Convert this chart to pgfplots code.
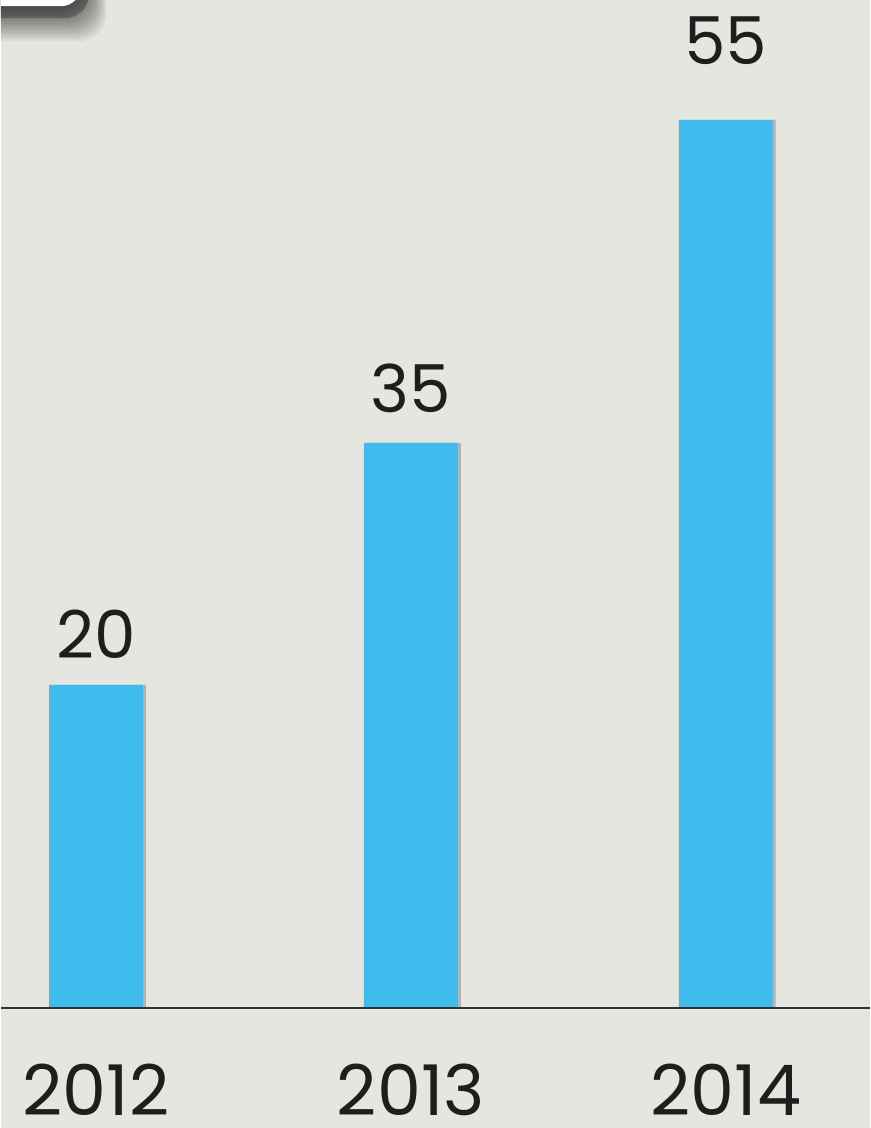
\documentclass[border=0pt]{standalone}
\usepackage{pgfplots}
\pgfplotsset{compat=1.18}
\usepackage{pgfplotstable}
\usepackage{fontspec}
\setmainfont{Poppins}
\definecolor{bg}{HTML}{E6E6E1}
\definecolor{barblue}{HTML}{3FBBEE}
\definecolor{txt}{HTML}{1E1E1E}
\pgfplotstableread{
x y off
0 20 13.5
1 35 15
2 55 27.5
}\datatable
\begin{document}
\begin{tikzpicture}
\begin{axis}[
  scale only axis,
  width=434.5pt, height=564pt,
  xmin=-0.3016, xmax=2.4571,
  ymin=-7.43, ymax=62.42,
  axis line style={draw=none},
  axis background/.style={fill=bg},
  major tick length=0pt,
  ytick=\empty,
  xtick={0,1,2},
  xticklabels={2012,2013,2014},
  xticklabel style={font=\fontsize{35}{40}\selectfont, text=txt, anchor=base, inner sep=0pt, yshift=6pt},
  /pgf/number format/assume math mode=true,
  clip=false,
]
% top-left box with soft shadow
\begin{scope}
\clip (axis description cs:0,0) rectangle (axis description cs:1,1);
\pgfplotsinvokeforeach{1,...,14}{
  \fill[black, opacity=0.055, rounded corners=14pt]
    (axis description cs:-0.1,1.1) rectangle ([xshift=0.9*#1pt, yshift=-1.25*#1pt]axis description cs:{80/869},{1-6/1128});
}
\fill[black, opacity=0.25, rounded corners=12pt]
    (axis description cs:-0.1,1.1) rectangle ([xshift=4pt, yshift=-6pt]axis description cs:{80/869},{1-6/1128});
\fill[white, rounded corners=10pt] (axis description cs:-0.1,1.1) rectangle (axis description cs:{80/869},{1-6/1128});
\end{scope}
% bar shadows
\addplot[ybar, bar width=0.298, bar shift=1.5pt, fill=black, fill opacity=0.22, draw=none]
  table[x=x, y=y] {\datatable};
\addplot[ybar, bar width=0.298, bar shift=0pt, fill=barblue, draw=none,
  nodes near coords,
  visualization depends on={\thisrow{off} \as \off},
  every node near coord/.append style={font=\fontsize{33}{40}\selectfont, text=txt, anchor=base, yshift=\off*1pt, /pgf/number format/assume math mode=true},
  ] table[x=x, y=y] {\datatable};
\draw[black!80, line width=1pt] (axis cs:-0.3016,0) -- (axis cs:2.4571,0);
\end{axis}
\end{tikzpicture}
\end{document}
